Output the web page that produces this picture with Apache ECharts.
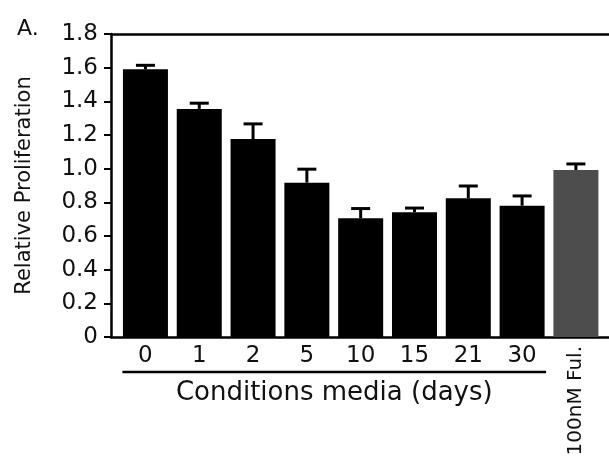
<!DOCTYPE html>
<html>
<head>
<meta charset="utf-8">
<script src="https://cdn.jsdelivr.net/npm/echarts@6/dist/echarts.min.js"></script>
<style>
html, body { margin: 0; padding: 0; background: #fff; }
#main { width: 609px; height: 459px; }
</style>
</head>
<body>
<div id="main"></div>
<script>
// data
var categories = ['0', '1', '2', '5', '10', '15', '21', '30', '100nM Ful.'];
var values = [1.59, 1.355, 1.176, 0.917, 0.705, 0.741, 0.824, 0.78, 0.992];
var errors = [0.024, 0.034, 0.09, 0.08, 0.058, 0.025, 0.073, 0.058, 0.036];
var yTicks = [0, 0.2, 0.4, 0.6, 0.8, 1.0, 1.2, 1.4, 1.6, 1.8];
var dayIdx = [0, 1, 2, 3, 4, 5, 6, 7]; // conditioned media groups
var ctrlIdx = [8]; // fulvestrant control

var FONT = 'DejaVu Sans';
var INK = '#111';
var X_MIN = -0.64, X_MAX = 8.615;

var barData = values.map(function (v, i) {
    return {
        value: [i, v],
        itemStyle: { color: i == 8 ? '#4d4d4d' : '#000' }
    };
});
var errData = values.map(function (v, i) { return [i, v, v + errors[i]]; });

var chart = echarts.init(document.getElementById('main'));

var option = {
    animation: false,
    title: {
        text: 'A.',
        left: 12, top: 13,
        textStyle: { fontFamily: FONT, fontSize: 22, fontWeight: 'normal', color: INK }
    },
    grid: { left: 111, right: 0, top: 34, bottom: 122 },
    xAxis: [{
        type: 'value',
        min: X_MIN, max: X_MAX,
        splitLine: { show: false },
        axisLine: { show: true, onZero: false, lineStyle: { color: '#000', width: 2.5 } },
        axisTick: { show: false },
        axisLabel: {
            customValues: dayIdx,
            formatter: function (v) { return categories[v]; },
            margin: 8,
            fontFamily: FONT, fontSize: 23, color: INK
        }
    }, {
        type: 'value',
        position: 'bottom',
        min: X_MIN, max: X_MAX,
        splitLine: { show: false },
        axisLine: { show: false, onZero: false },
        axisTick: { show: false },
        axisLabel: {
            customValues: ctrlIdx,
            formatter: function (v) { return categories[v]; },
            rotate: 90,
            margin: 9,
            fontFamily: FONT, fontSize: 20, color: INK
        }
    }, {
        // top frame line
        type: 'value',
        position: 'top',
        min: X_MIN, max: X_MAX,
        splitLine: { show: false },
        axisLine: { show: true, onZero: false, lineStyle: { color: '#000', width: 2.5 } },
        axisTick: { show: false },
        axisLabel: { show: false }
    }],
    yAxis: {
        type: 'value',
        min: 0, max: 1.8, interval: 0.2,
        splitLine: { show: false },
        axisLine: { show: true, onZero: false, lineStyle: { color: '#000', width: 2.5 } },
        axisTick: { show: true, length: 7, lineStyle: { color: '#000', width: 2 } },
        axisLabel: {
            customValues: yTicks,
            margin: 13,
            formatter: function (v) { return v === 0 ? '0' : v.toFixed(1); },
            fontFamily: FONT, fontSize: 23, color: INK
        },
        name: 'Relative Proliferation',
        nameLocation: 'middle',
        nameRotate: 90,
        nameGap: 76,
        nameTextStyle: { fontFamily: FONT, fontSize: 21, color: INK }
    },
    series: [{
        type: 'bar',
        barWidth: 45,
        data: barData
    }, {
        type: 'custom',
        data: errData,
        renderItem: function (params, api) {
            var lo = api.coord([api.value(0), api.value(1)]);
            var hi = api.coord([api.value(0), api.value(2)]);
            var half = 9.5;
            return {
                type: 'group',
                children: [{
                    type: 'line',
                    shape: { x1: lo[0], y1: lo[1], x2: hi[0], y2: hi[1] },
                    style: { stroke: '#000', lineWidth: 3 }
                }, {
                    type: 'line',
                    shape: { x1: hi[0] - half, y1: hi[1], x2: hi[0] + half, y2: hi[1] },
                    style: { stroke: '#000', lineWidth: 3 }
                }]
            };
        }
    }]
};
chart.setOption(option);

// bracket line + group label under the day categories
var first = chart.convertToPixel({ xAxisIndex: 0, yAxisIndex: 0 }, [dayIdx[0], 0]);
var last = chart.convertToPixel({ xAxisIndex: 0, yAxisIndex: 0 }, [dayIdx[dayIdx.length - 1], 0]);
var x1 = first[0] - 23, x2 = last[0] + 24;
chart.setOption({
    graphic: [{
        type: 'line',
        shape: { x1: x1, y1: first[1] + 35, x2: x2, y2: first[1] + 35 },
        style: { stroke: '#000', lineWidth: 2.5 }
    }, {
        type: 'text',
        x: (x1 + x2) / 2, y: first[1] + 56,
        style: {
            text: 'Conditions media (days)',
            fontFamily: FONT, fontSize: 26, fill: INK,
            align: 'center', verticalAlign: 'middle'
        }
    }]
});
</script>
</body>
</html>
